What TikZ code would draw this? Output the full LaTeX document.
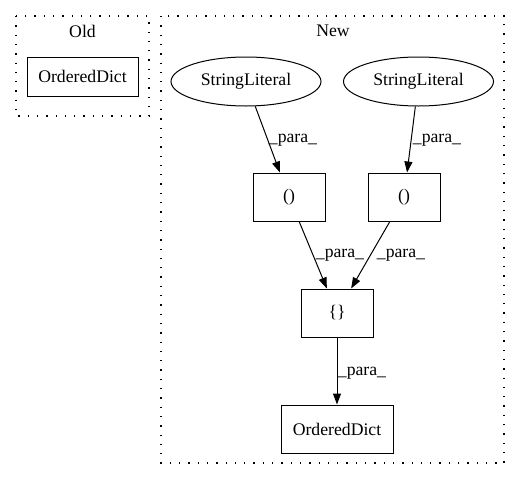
\documentclass[tikz,border=0pt]{standalone}
\usepackage{fontspec}
\setmainfont{Liberation Serif}
\usetikzlibrary{arrows.meta,shapes.geometric}
\tikzset{
  base/.style={draw, line width=1pt, inner sep=0pt, font=\fontsize{17.7}{20}\selectfont},
  box/.style={base, rectangle, minimum height=48pt},
  ell/.style={base, ellipse, minimum width=150pt, minimum height=49pt},
  cluster/.style={line width=1.3pt, dash pattern=on 1.3pt off 8pt},
  edge/.style={line width=1pt, -{Triangle[length=11pt,width=8pt]}},
  lbl/.style={inner sep=0pt, font=\fontsize{17.7}{20}\selectfont},
  ttl/.style={inner sep=0pt, font=\fontsize{17.7}{20}\selectfont}
}
\begin{document}
\begin{tikzpicture}[x=1pt,y=-1pt]
\useasboundingbox (0,0) rectangle (520,480);
% clusters
\draw[cluster] (16,16) rectangle (149,116);
\node[ttl] (oldt) at (82.5,31) {Old};
\draw[cluster] (161,16) rectangle (504,463);
\node[ttl] (newt) at (333,31) {New};
% nodes
\node[box, minimum width=111pt, minimum height=39pt] (oldod) at (82.5,76.5) {OrderedDict};
\node[ell] (sl1) at (246,81.5) {StringLiteral};
\node[ell] (sl2) at (418.5,81.5) {StringLiteral};
\node[box, minimum width=72pt] (p1) at (289,197) {()};
\node[box, minimum width=72pt] (p2) at (404,197) {()};
\node[box, minimum width=72pt] (br) at (337,313) {\{\}};
\node[box, minimum width=112pt] (od) at (337,429) {OrderedDict};
% edges
\draw[edge] (sl1) -- (p1);
\draw[edge] (sl2) -- (p2);
\draw[edge] (p1) -- (br);
\draw[edge] (p2) -- (br);
\draw[edge] (br) -- (od);
% labels
\node[lbl] (l1) at (293,140) {\_para\_};
\node[lbl] (l2) at (437,140) {\_para\_};
\node[lbl] (l3) at (340,255) {\_para\_};
\node[lbl] (l4) at (401,255) {\_para\_};
\node[lbl] (l5) at (362,373) {\_para\_};
\end{tikzpicture}
\end{document}
